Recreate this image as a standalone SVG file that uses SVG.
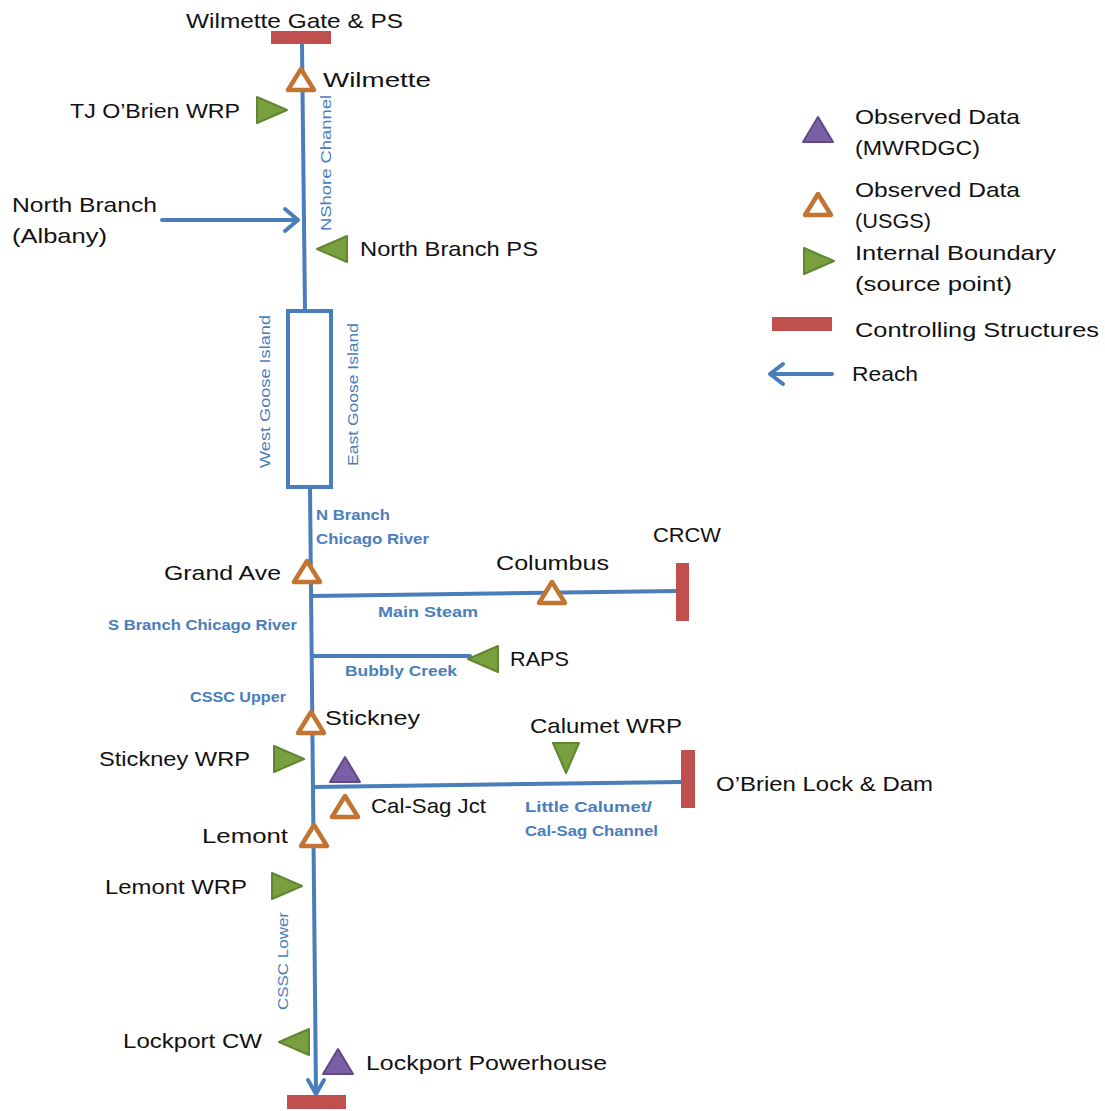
<svg xmlns="http://www.w3.org/2000/svg" xmlns:xlink="http://www.w3.org/1999/xlink" width="1105" height="1111" viewBox="0 0 1105 1111">
<style>
.lbl{font-family:"Liberation Sans",Arial,sans-serif;font-size:21px;fill:#111}
.blu{font-family:"Liberation Sans",Arial,sans-serif;font-size:15px;fill:#4A7EBB;font-weight:bold}
.rot{font-family:"Liberation Sans",Arial,sans-serif;font-size:15px;fill:#4A7EBB}
.reach{stroke:#4A7EBB;stroke-width:4;fill:none;stroke-linecap:round}
.head{stroke:#4A7EBB;stroke-width:4;fill:none;stroke-linecap:round;stroke-linejoin:round}
.ctrl{fill:#C0504D}
</style>
<defs>
<path id="usgs" d="M-13,10 L0,-11 L13,10 Z" fill="#fff" stroke="#C27533" stroke-width="4.5" stroke-linejoin="round"/>
<path id="ib" d="M-14,-13 L16,0 L-14,13 Z" fill="#78A03E" stroke="#62862F" stroke-width="2" stroke-linejoin="round"/>
<path id="mw" d="M-15,12 L0,-13 L15,12 Z" fill="#7A5FA6" stroke="#5F4A85" stroke-width="2" stroke-linejoin="round"/>
</defs>
<rect width="1105" height="1111" fill="#fff"/>
<g id="connectors">
<line class="reach" x1="302" y1="45" x2="305" y2="311"/>
<rect x="288" y="311" width="43" height="176" fill="none" stroke="#4A7EBB" stroke-width="4"/>
<line class="reach" x1="310" y1="487" x2="316" y2="1093"/>
<polyline class="head" points="308,1080 316,1094 324,1080"/>
<line class="reach" x1="312" y1="596" x2="678" y2="591"/>
<line class="reach" x1="312" y1="656" x2="470" y2="656"/>
<line class="reach" x1="314" y1="787" x2="681" y2="782"/>
<line class="reach" x1="162" y1="220" x2="297" y2="220"/>
<polyline class="head" points="285,209 298,220 285,231"/>
<text class="rot" transform="translate(331,231) rotate(-90)" textLength="136" lengthAdjust="spacingAndGlyphs">NShore Channel</text>
<text class="rot" transform="translate(270,468) rotate(-90)" textLength="153" lengthAdjust="spacingAndGlyphs">West Goose Island</text>
<text class="rot" transform="translate(358,466) rotate(-90)" textLength="143" lengthAdjust="spacingAndGlyphs">East Goose Island</text>
<text class="rot" transform="translate(288,1010) rotate(-90)" textLength="98" lengthAdjust="spacingAndGlyphs">CSSC Lower</text>
<text class="blu" x="316" y="520" textLength="74" lengthAdjust="spacingAndGlyphs">N Branch</text>
<text class="blu" x="316" y="544" textLength="113" lengthAdjust="spacingAndGlyphs">Chicago River</text>
<text class="blu" x="378" y="617" textLength="100" lengthAdjust="spacingAndGlyphs">Main Steam</text>
<text class="blu" x="108" y="630" textLength="189" lengthAdjust="spacingAndGlyphs">S Branch Chicago River</text>
<text class="blu" x="345" y="676" textLength="112" lengthAdjust="spacingAndGlyphs">Bubbly Creek</text>
<text class="blu" x="190" y="702" textLength="96" lengthAdjust="spacingAndGlyphs">CSSC Upper</text>
<text class="blu" x="525" y="812" textLength="127" lengthAdjust="spacingAndGlyphs">Little Calumet/</text>
<text class="blu" x="525" y="836" textLength="133" lengthAdjust="spacingAndGlyphs">Cal-Sag Channel</text>
</g>
<g id="wilmette-gate"><rect class="ctrl" x="271" y="31" width="60" height="13"/><text class="lbl" x="186" y="28" textLength="217" lengthAdjust="spacingAndGlyphs">Wilmette Gate &amp; PS</text></g>
<g id="wilmette"><use xlink:href="#usgs" transform="translate(301,80)"/><text class="lbl" x="323" y="87" textLength="108" lengthAdjust="spacingAndGlyphs">Wilmette</text></g>
<g id="tj-obrien"><use xlink:href="#ib" transform="translate(271,110)"/><text class="lbl" x="70" y="118" textLength="170" lengthAdjust="spacingAndGlyphs">TJ O’Brien WRP</text></g>
<g id="north-branch"><text class="lbl" x="12" y="212" textLength="145" lengthAdjust="spacingAndGlyphs">North Branch</text><text class="lbl" x="12" y="243" textLength="95" lengthAdjust="spacingAndGlyphs">(Albany)</text></g>
<g id="north-branch-ps"><use xlink:href="#ib" transform="translate(333,249) rotate(180)"/><text class="lbl" x="360" y="256" textLength="178" lengthAdjust="spacingAndGlyphs">North Branch PS</text></g>
<g id="grand-ave"><use xlink:href="#usgs" transform="translate(307,572)"/><text class="lbl" x="164" y="580" textLength="117" lengthAdjust="spacingAndGlyphs">Grand Ave</text></g>
<g id="columbus"><use xlink:href="#usgs" transform="translate(552,593)"/><text class="lbl" x="496" y="570" textLength="113" lengthAdjust="spacingAndGlyphs">Columbus</text></g>
<g id="crcw"><rect class="ctrl" x="676" y="563" width="13" height="58"/><text class="lbl" x="653" y="542" textLength="68" lengthAdjust="spacingAndGlyphs">CRCW</text></g>
<g id="raps"><use xlink:href="#ib" transform="translate(484,659) rotate(180)"/><text class="lbl" x="510" y="666" textLength="59" lengthAdjust="spacingAndGlyphs">RAPS</text></g>
<g id="stickney"><use xlink:href="#usgs" transform="translate(311,723)"/><text class="lbl" x="325" y="725" textLength="95" lengthAdjust="spacingAndGlyphs">Stickney</text></g>
<g id="stickney-wrp"><use xlink:href="#ib" transform="translate(288,759)"/><text class="lbl" x="99" y="766" textLength="151" lengthAdjust="spacingAndGlyphs">Stickney WRP</text></g>
<g id="calsag-mwrd"><use xlink:href="#mw" transform="translate(345,770)"/></g>
<g id="calumet-wrp"><use xlink:href="#ib" transform="translate(566,757) rotate(90)"/><text class="lbl" x="530" y="733" textLength="152" lengthAdjust="spacingAndGlyphs">Calumet WRP</text></g>
<g id="obrien-lock"><rect class="ctrl" x="681" y="750" width="14" height="58"/><text class="lbl" x="716" y="791" textLength="217" lengthAdjust="spacingAndGlyphs">O’Brien Lock &amp; Dam</text></g>
<g id="calsag-jct"><use xlink:href="#usgs" transform="translate(345,807)"/><text class="lbl" x="371" y="813" textLength="115" lengthAdjust="spacingAndGlyphs">Cal-Sag Jct</text></g>
<g id="lemont"><use xlink:href="#usgs" transform="translate(314,836)"/><text class="lbl" x="202" y="843" textLength="86" lengthAdjust="spacingAndGlyphs">Lemont</text></g>
<g id="lemont-wrp"><use xlink:href="#ib" transform="translate(286,886)"/><text class="lbl" x="105" y="894" textLength="142" lengthAdjust="spacingAndGlyphs">Lemont WRP</text></g>
<g id="lockport-cw"><use xlink:href="#ib" transform="translate(295,1042) rotate(180)"/><text class="lbl" x="123" y="1048" textLength="139" lengthAdjust="spacingAndGlyphs">Lockport CW</text></g>
<g id="lockport-ph"><use xlink:href="#mw" transform="translate(338,1062)"/><text class="lbl" x="366" y="1070" textLength="241" lengthAdjust="spacingAndGlyphs">Lockport Powerhouse</text></g>
<g id="lockport-gate"><rect class="ctrl" x="287" y="1095" width="59" height="14"/></g>
<g id="legend">
<use xlink:href="#mw" transform="translate(818,130)"/>
<text class="lbl" x="855" y="124" textLength="165" lengthAdjust="spacingAndGlyphs">Observed Data</text>
<text class="lbl" x="855" y="155" textLength="125" lengthAdjust="spacingAndGlyphs">(MWRDGC)</text>
<use xlink:href="#usgs" transform="translate(818,205)"/>
<text class="lbl" x="855" y="197" textLength="165" lengthAdjust="spacingAndGlyphs">Observed Data</text>
<text class="lbl" x="855" y="228" textLength="76" lengthAdjust="spacingAndGlyphs">(USGS)</text>
<use xlink:href="#ib" transform="translate(818,261)"/>
<text class="lbl" x="855" y="260" textLength="201" lengthAdjust="spacingAndGlyphs">Internal Boundary</text>
<text class="lbl" x="855" y="291" textLength="157" lengthAdjust="spacingAndGlyphs">(source point)</text>
<rect class="ctrl" x="772" y="317" width="60" height="14"/>
<text class="lbl" x="855" y="337" textLength="244" lengthAdjust="spacingAndGlyphs">Controlling Structures</text>
<line class="reach" x1="832" y1="374" x2="771" y2="374"/>
<polyline class="head" points="783,364 770,374 783,384"/>
<text class="lbl" x="852" y="381" textLength="66" lengthAdjust="spacingAndGlyphs">Reach</text>
</g>
</svg>
